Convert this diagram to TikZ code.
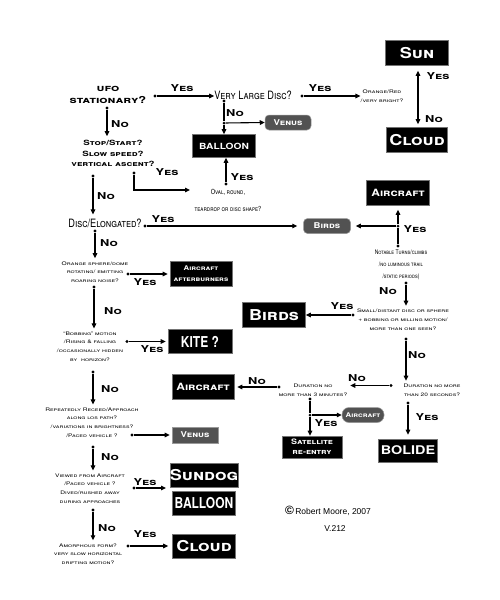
\documentclass[tikz,border=0pt]{standalone}
\usepackage{fontspec}
\setmainfont{Liberation Sans}
\newfontfamily\wfont[FakeStretch=1.35]{TeX Gyre Heros}
\newfontfamily\nfont[FakeStretch=0.8]{TeX Gyre Heros}
\newfontfamily\bxfont[FakeStretch=1.2]{TeX Gyre Heros}
\usetikzlibrary{arrows.meta}
\begin{document}
\begin{tikzpicture}[x=1pt,y=-1pt,
  q/.style={font=\wfont\bfseries\scshape\fontsize{9.5}{12}\selectfont, align=center, inner sep=0pt},
  qs/.style={font=\wfont\scshape\fontsize{4.9}{8.7}\selectfont, align=center, inner sep=0pt},
  qm/.style={font=\wfont\bfseries\scshape\fontsize{7.2}{10.5}\selectfont, align=center, inner sep=0pt},
  qn/.style={font=\nfont\scshape\fontsize{11.5}{12}\selectfont, align=center, inner sep=0pt},
  qnt/.style={font=\nfont\scshape\fontsize{7}{12}\selectfont, align=center, inner sep=0pt},
  lbl/.style={font=\wfont\bfseries\scshape\fontsize{9.5}{10}\selectfont, inner sep=0pt},
  bbox/.style={fill=black, text=white, draw=black!55, line width=0.6pt, inner sep=0pt, align=center, minimum width=63pt, minimum height=25pt, font=\bxfont\bfseries\scshape\fontsize{15}{15}\selectfont},
  sbox/.style={bbox, font=\bxfont\bfseries\scshape\fontsize{8.5}{9}\selectfont},
  gbox/.style={fill=black!68, text=white, draw=black!40, line width=0.5pt, rounded corners=4pt, inner sep=0pt, minimum height=15pt, font=\bxfont\bfseries\scshape\fontsize{8}{8}\selectfont},
  dot/.style={circle, fill=black, inner sep=0pt, minimum size=3.4pt},
  arr/.style={-{Triangle[length=5pt,width=4.6pt]}, line width=1.1pt},
  ln/.style={line width=1.1pt},
]
\path[use as bounding box, fill=white] (0,0) rectangle (500,600);

% ---- top row
\node[q] (ufo) at (108,95) {ufo\\stationary?};
\node[qn] (vld) at (253,95) {Very Large Disc?};
\node[qs] (orng) at (382,96.5) {Orange/Red\\/very bright?};
\node[bbox] (sun) at (417,53) {Sun};
\node[bbox, minimum width=61pt] (cloudA) at (417,140) {Cloud};

\node[dot] (d1) at (155,96) {};
\draw[arr] (d1) -- (vld.west |- d1);
\node[lbl] at (182,88) {Yes};
\node[dot] (d2) at (302,96) {};
\draw[arr] (d2) -- (orng.west |- d2);
\node[lbl] at (320,88) {Yes};
\draw[{Triangle[length=5pt,width=4.6pt]}-{Triangle[length=5pt,width=4.6pt]}, line width=1.1pt, shorten <=5pt, shorten >=3pt] (sun.south -| 418,0) -- (cloudA.north -| 418,0);
\node[lbl] at (438,76) {Yes};
\node[lbl] at (434,119) {No};

% ---- Very large disc branch
\node[gbox, minimum width=46pt] (venA) at (288,122.5) {Venus};
\node[sbox, minimum height=23pt, font=\bxfont\bfseries\fontsize{8.5}{8}\selectfont] (balA) at (224,146) {BALLOON};
\node[dot] (d3) at (224,101) {};
\node[dot, minimum size=3pt] (j1) at (224,123) {};
\draw[ln] (d3) -- (j1);
\draw[arr] (j1) -- (balA.north);
\draw[arr] (j1) -- (venA.west);
\node[lbl] at (235,113) {No};

\node[qnt] (oval) at (228,200.5) {Oval, round,\\[5pt]teardrop or disc shape?};
\node[dot] (d4) at (226,184) {};
\draw[arr] (d4) -- (balA.south -| d4);
\node[lbl] at (242,177) {Yes};

% ---- Stop/start
\node[qm] (stop) at (113,153.5) {Stop/Start?\\Slow speed?\\vertical ascent?};
\node[dot] (d5) at (107,108) {};
\draw[arr, shorten >=4pt] (d5) -- (stop.north -| d5);
\node[lbl] at (120,124) {No};
\node[dot] (d6) at (134,173) {};
\coordinate (ovin) at (190,190);
\draw[arr] (d6) |- (ovin);
\node[lbl] at (167,172) {Yes};

% ---- Disc / elongated
\node[qn] (disc) at (105,223) {Disc/Elongated?};
\node[dot] (d7) at (93,176) {};
\draw[arr, shorten >=4pt] (d7) -- (disc.north -| d7);
\node[lbl] at (106,196) {No};
\node[gbox, minimum width=47pt] (birdA) at (327,226) {Birds};
\node[dot] (d8) at (145,226) {};
\draw[arr, shorten >=6pt] (d8) -- (birdA.west);
\node[lbl] at (163,219) {Yes};

% ---- Notable turns
\node[bbox, minimum width=63pt, font=\bxfont\bfseries\scshape\fontsize{10}{10}\selectfont] (airA) at (398,193) {Aircraft};
\node[qnt, font=\nfont\scshape\fontsize{6.3}{12}\selectfont] (notab) at (401,265) {Notable Turns/climbs\\/no luminous trail\\/static periods)};
\node[dot] (d9) at (398,246) {};
\node[dot, minimum size=3pt] (j2) at (398,226) {};
\draw[ln] (d9) -- (j2);
\draw[arr, shorten >=4pt] (j2) -- (airA.south);
\draw[arr, shorten >=5pt] (j2) -- (birdA.east);
\node[lbl] at (415,229) {Yes};

\node[qs] (small) at (403,319.5) {Small/distant disc or sphere\\+ bobbing or milling motion/\\more than one seen?};
\node[dot] (d10) at (406,283) {};
\draw[arr, shorten >=3pt] (d10) -- (small.north -| d10);
\node[lbl] at (388,291) {No};
\node[bbox] (birdB) at (274,315) {Birds};
\node[dot] (d11) at (353,315) {};
\draw[arr] (d11) -- (birdB.east);
\node[lbl] at (342,306) {Yes};

% ---- Durations
\node[qs] (dur20) at (432,390) {Duration no more\\than 20 seconds?};
\node[dot] (d12) at (406,339) {};
\draw[arr, shorten >=3pt] (d12) -- (dur20.north -| d12);
\node[lbl] at (417,355) {No};
\node[qs] (dur3) at (313,390) {Duration no\\more than 3 minutes?};
\node[dot] (d13) at (391,385.5) {};
\draw[arr, shorten >=3pt] (d13) -- (dur3.east |- d13);
\node[lbl] at (357,378) {No};
\node[bbox, minimum width=62pt, font=\bxfont\bfseries\scshape\fontsize{10}{10}\selectfont] (airC) at (203,387) {Aircraft};
\node[dot] (d14) at (279,387) {};
\draw[arr, shorten >=3pt] (d14) -- (airC.east);
\node[lbl] at (257,381) {No};

\node[sbox, minimum width=60pt, minimum height=22pt, font=\bxfont\bfseries\scshape\fontsize{7.5}{10}\selectfont] (sat) at (312,447) {Satellite\\re-entry};
\node[gbox, minimum width=42pt, rounded corners=7pt, font=\bxfont\bfseries\scshape\fontsize{6.5}{7}\selectfont] (airD) at (363,415) {Aircraft};
\node[dot] (d15) at (310,399) {};
\node[dot, minimum size=3pt] (j3) at (310,415) {};
\draw[ln] (d15) -- (j3);
\draw[arr] (j3) -- (sat.north -| j3);
\draw[arr] (j3) -- (airD.west);
\node[lbl] at (326,423) {Yes};

\node[bbox, minimum width=59pt, minimum height=23pt, font=\bxfont\bfseries\fontsize{12}{12}\selectfont] (bol) at (408,450.5) {BOLIDE};
\node[dot] (d16) at (408,403) {};
\draw[arr, shorten >=4pt] (d16) -- (bol.north);
\node[lbl] at (427,417) {Yes};

% ---- Left column
\node[qs] (sph) at (95,272) {Orange sphere/dome\\rotating/ emitting\\roaring noise?};
\node[dot] (d17) at (95,231) {};
\draw[arr, shorten >=3pt] (d17) -- (sph.north -| d17);
\node[lbl] at (109,243) {No};
\node[sbox, minimum width=62pt, font=\bxfont\bfseries\scshape\fontsize{6.5}{11}\selectfont] (aftb) at (201,273.5) {Aircraft\\afterburners};
\node[dot] (d18) at (128,274) {};
\draw[arr, shorten >=2pt] (d18) -- (aftb.west |- d18);
\node[lbl] at (145,282) {Yes};

\node[qs] (bob) at (90,346.5) {“Bobbing” motion\\/Rising \& falling\\/occasionally hidden\\by\ \ horizon?};
\node[dot] (d19) at (94,287) {};
\draw[arr, shorten >=3pt] (d19) -- (bob.north -| d19);
\node[lbl] at (113,311) {No};
\node[bbox, minimum width=64pt, minimum height=24pt, font=\nfont\bfseries\fontsize{15}{15}\selectfont] (kite) at (200,341.5) {KITE ?};
\node[dot] (d20) at (127,341.5) {};
\draw[arr, shorten >=2pt] (d20) -- (kite.west);
\node[lbl] at (152,349) {Yes};

\node[qs] (rec) at (92,422.5) {Repeatedly Receed/Approach\\along los path?\\/variations in brightness?\\/Paced vehicle ?};
\node[dot] (d21) at (93,372) {};
\draw[arr, shorten >=3pt] (d21) -- (rec.north -| d21);
\node[lbl] at (110,389) {No};
\node[sbox, minimum width=46pt, minimum height=16pt, fill=black!68, draw=black!40, font=\bxfont\bfseries\scshape\fontsize{8}{8}\selectfont] (venB) at (195,435) {Venus};
\node[dot] (d22) at (132,435) {};
\draw[arr, shorten >=2pt] (d22) -- (venB.west);

\node[qs] (view) at (90,488.5) {Viewed from Aircraft\\/Paced vehicle ?\\Dived/rushed away\\during approaches};
\node[dot] (d23) at (93,447) {};
\draw[arr, shorten >=3pt] (d23) -- (view.north -| d23);
\node[lbl] at (110,457) {No};
\node[bbox, minimum height=24pt] (sdog) at (204,475) {Sundog};
\node[bbox, minimum height=24pt, font=\nfont\bfseries\fontsize{15}{15}\selectfont] (balB) at (204,503) {BALLOON};
\node[dot] (d24) at (134,488) {};
\coordinate (vwout) at (166,488);
\draw[arr] (d24) -- (vwout);
\node[lbl] at (145,482) {Yes};

\node[qs] (amor) at (88,554) {Amorphous form?\\very slow horizontal\\drifting motion?};
\node[dot] (d25) at (93,510) {};
\draw[arr, shorten >=3pt] (d25) -- (amor.north -| d25);
\node[lbl] at (107,528) {No};
\node[bbox, minimum height=24pt] (cloudB) at (204,546) {Cloud};
\node[dot] (d26) at (128,546) {};
\draw[arr, shorten >=4pt] (d26) -- (cloudB.west);
\node[lbl] at (145,534) {Yes};

% ---- credits
\node[font=\fontsize{8.5}{9}\selectfont, inner sep=0pt] (cred) at (328,511) {\textbf{\large\char"00A9}\,Robert Moore, 2007};
\node[font=\fontsize{8.5}{9}\selectfont, inner sep=0pt] (ver) at (335,529) {V.212};
\end{tikzpicture}
\end{document}
